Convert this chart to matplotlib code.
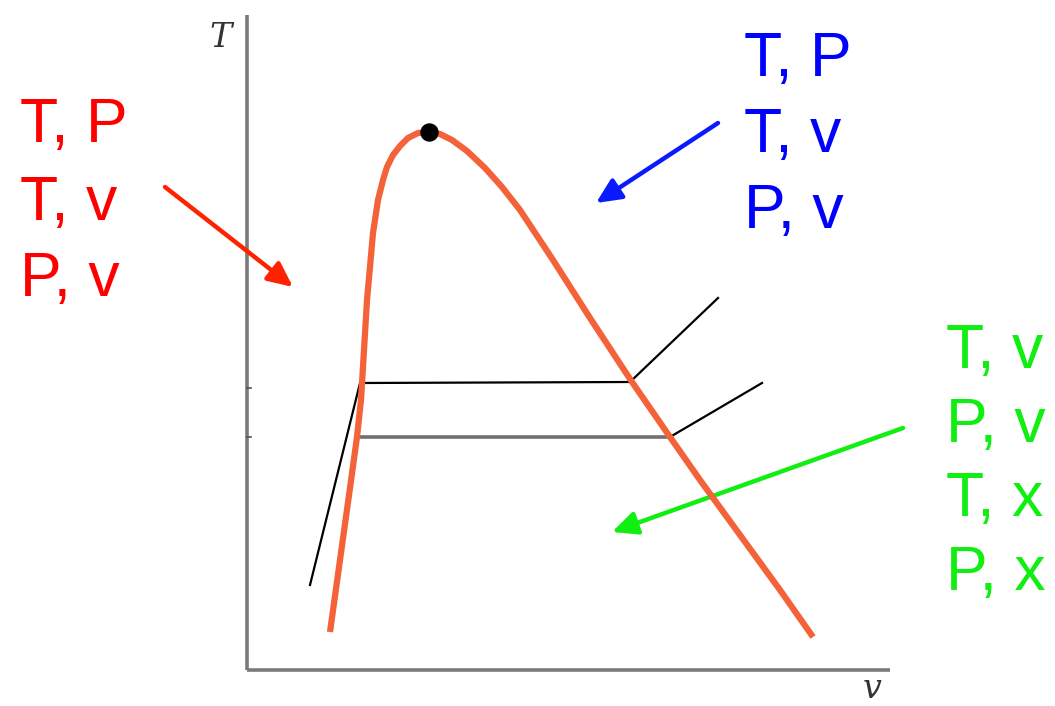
import matplotlib
matplotlib.use("Agg")
import matplotlib.pyplot as plt

# saturation dome (pixel coords)
dome_x = [330, 340, 350, 357, 361, 364, 367, 370, 373, 378, 383, 387, 393, 400, 408, 418, 429,
          440, 452, 467, 485, 502, 520, 553, 590, 632, 670, 700, 740, 780, 813]
dome_y = [632, 560, 488, 437, 400, 350, 300, 267, 233, 200, 180, 167, 155, 146, 138, 133, 132,
          134, 140, 151, 168, 187, 210, 260, 318, 382, 437, 480, 535, 590, 637]
crit = (429, 132)

# isobars
iso_hi_x = [310, 360, 630, 718]
iso_hi_y = [585, 383, 382, 298]
iso_lo_x = [357, 670]
iso_lo_y = [437, 437]
iso_lo_tail_x = [670, 762]
iso_lo_tail_y = [437, 383]

red_labels = ["T, P", "T, v", "P, v"]
blue_labels = ["T, P", "T, v", "P, v"]
green_labels = ["T, v", "P, v", "T, x", "P, x"]

fig = plt.figure(figsize=(10.55, 7.06), dpi=100)
ax = fig.add_axes([0, 0, 1, 1])
ax.set_xlim(0, 1055)
ax.set_ylim(706, 0)
ax.axis('off')

# axes of the diagram
ax.plot([247, 247], [15, 670], color='#7a7a7a', lw=2.6, solid_capstyle='butt')
ax.plot([247, 890], [670, 670], color='#7a7a7a', lw=2.6, solid_capstyle='butt')
for ty in [388, 437]:
    ax.plot([247, 251], [ty, ty], color='#555555', lw=1.2)
ax.text(221, 38, "T", fontsize=24, family='DejaVu Serif', style='italic',
        ha='center', va='center', color='#333333')
ax.text(872, 689, "v", fontsize=24, family='DejaVu Serif', style='italic',
        ha='center', va='center', color='#333333')

ax.plot(iso_hi_x, iso_hi_y, color='black', lw=1.6, zorder=3)
ax.plot(iso_lo_x, iso_lo_y, color='#707070', lw=2.6, zorder=3)
ax.plot(iso_lo_tail_x, iso_lo_tail_y, color='black', lw=1.6, zorder=3)
ax.plot(dome_x, dome_y, color='#f4623a', lw=4.5, zorder=4,
        solid_capstyle='butt', solid_joinstyle='round')
ax.scatter([crit[0]], [crit[1]], s=150, color='black', zorder=5)

txt = dict(fontsize=45, family='Liberation Sans', ha='left', va='center')
for i, s in enumerate(red_labels):
    ax.text(20, 126 + i * 77, s, color='#ff0000', **txt)
for i, s in enumerate(blue_labels):
    ax.text(744, 60 + i * 76, s, color='#0000ff', **txt)
for i, s in enumerate(green_labels):
    ax.text(946, 352 + i * 74, s, color='#11ee11', **txt)

arrow = lambda c: dict(arrowstyle='-|>,head_length=0.6,head_width=0.28', color=c, lw=3.2,
                       mutation_scale=25, shrinkA=0, shrinkB=0)
ax.annotate("", xy=(293, 287), xytext=(165, 187), arrowprops=arrow('#ff2200'))
ax.annotate("", xy=(596, 203), xytext=(718, 123), arrowprops=arrow('#0a1aff'))
ax.annotate("", xy=(612, 532), xytext=(903, 428), arrowprops=arrow('#11ee11'))

fig.savefig("out.png", dpi=100)
